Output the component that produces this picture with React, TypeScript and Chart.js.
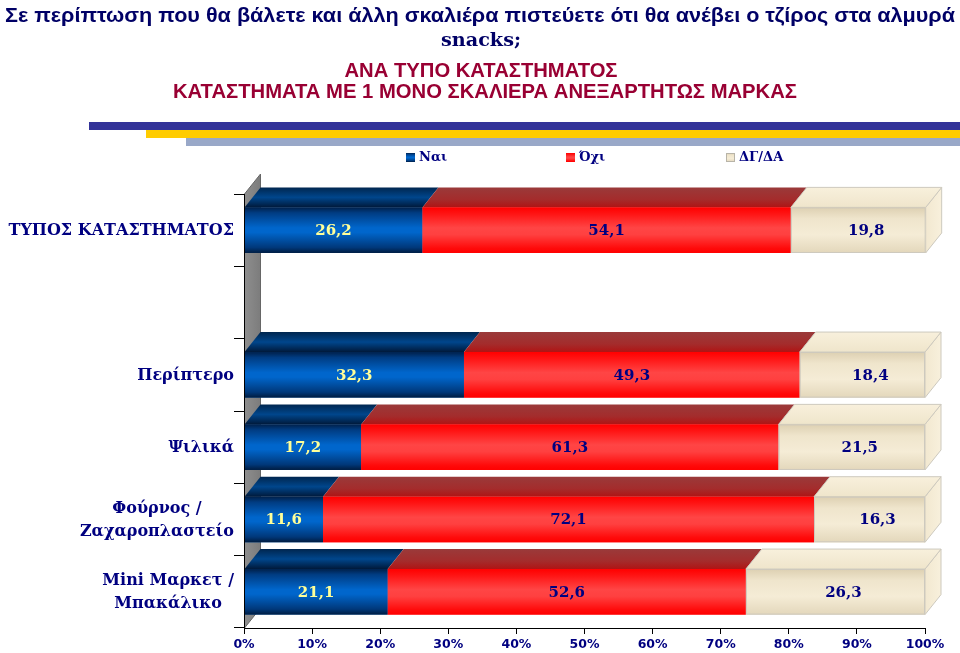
import React, { useEffect, useRef } from "react";
import { Chart, registerables } from "chart.js";

Chart.register(...registerables);

// ---------- data ----------
const categories: string[][] = [
  ["ΤΥΠΟΣ ΚΑΤΑΣΤΗΜΑΤΟΣ"],
  [""],
  ["Περίπτερο"],
  ["Ψιλικά"],
  ["Φούρνος /", "Ζαχαροπλαστείο"],
  ["Mini Μαρκετ /", "Μπακάλικο"],
];
const seriesNames = ["Ναι", "Όχι", "ΔΓ/ΔΑ"];
const yesValues: (number | null)[] = [26.2, null, 32.3, 17.2, 11.6, 21.1];
const noValues: (number | null)[] = [54.1, null, 49.3, 61.3, 72.1, 52.6];
const dkValues: (number | null)[] = [19.8, null, 18.4, 21.5, 16.3, 26.3];
const xTickSuffix = "%";

const titleLine1 =
  "Σε περίπτωση που θα βάλετε και άλλη σκαλιέρα πιστεύετε ότι θα ανέβει ο τζίρος στα αλμυρά";
const titleLine2 = "snacks;";
const subtitleLine1 = "ΑΝΑ ΤΥΠΟ ΚΑΤΑΣΤΗΜΑΤΟΣ";
const subtitleLine2 = "ΚΑΤΑΣΤΗΜΑΤΑ ΜΕ 1 ΜΟΝΟ ΣΚΑΛΙΕΡΑ ΑΝΕΞΑΡΤΗΤΩΣ ΜΑΡΚΑΣ";

// ---------- styles ----------
const DX = 16;
const DY = -20;
const NAVY = "#000080";
const SERIF = '"DejaVu Serif", "Liberation Serif", serif';
const SANS = '"Liberation Sans", Arial, sans-serif';

function fitText(
  ctx: CanvasRenderingContext2D,
  text: string,
  cx: number,
  y: number,
  width: number,
  font: string,
  color: string
) {
  ctx.save();
  ctx.font = font;
  const w = ctx.measureText(text).width;
  const s = width / w;
  ctx.translate(cx, y);
  ctx.scale(s, 1);
  ctx.textAlign = "center";
  ctx.textBaseline = "alphabetic";
  ctx.fillStyle = color;
  ctx.fillText(text, 0, 0);
  ctx.restore();
}

function vGrad(ctx: CanvasRenderingContext2D, y0: number, y1: number, stops: [number, string][]) {
  const g = ctx.createLinearGradient(0, y0, 0, y1);
  stops.forEach(([o, c]) => g.addColorStop(o, c));
  return g;
}

const frontStops: [number, string][][] = [
  [
    [0, "#00204a"],
    [0.12, "#003c82"],
    [0.45, "#0066cc"],
    [0.55, "#0066cc"],
    [0.88, "#00387a"],
    [1, "#001c40"],
  ],
  [
    [0, "#ff0000"],
    [0.15, "#ff1515"],
    [0.45, "#ff4545"],
    [0.6, "#ff4040"],
    [0.9, "#ff0a0a"],
    [1, "#ff0000"],
  ],
  [
    [0, "#ddd0b2"],
    [0.25, "#efe5cc"],
    [0.6, "#f5ecd6"],
    [1, "#e3d7bb"],
  ],
];
const topStops: [number, string][][] = [
  [
    [0, "#00264f"],
    [0.5, "#00468c"],
    [1, "#00193a"],
  ],
  [
    [0, "#9a3a3a"],
    [0.6, "#a42c2c"],
    [1, "#b01414"],
  ],
  [
    [0, "#f8f0dc"],
    [1, "#efe5cb"],
  ],
];
const baseColors = ["#0060c0", "#ff2020", "#f2e9d2"];
const labelColors = ["#ffff99", NAVY, NAVY];

const decorPlugin = {
  id: "decor",
  beforeDraw(chart: any) {
    const ctx: CanvasRenderingContext2D = chart.ctx;
    ctx.save();
    ctx.fillStyle = "#ffffff";
    ctx.fillRect(0, 0, chart.width, chart.height);

    fitText(ctx, titleLine1, 480, 22, 950, `bold 21px ${SANS}`, "#000066");
    fitText(ctx, titleLine2, 481, 46, 80, `bold 18px ${SERIF}`, "#000066");
    fitText(ctx, subtitleLine1, 481, 77, 273, `bold 20px ${SANS}`, "#990033");
    fitText(ctx, subtitleLine2, 485, 98, 624, `bold 20px ${SANS}`, "#990033");

    ctx.fillStyle = "#333399";
    ctx.fillRect(89, 122, 960 - 89, 8);
    ctx.fillStyle = "#ffcc00";
    ctx.fillRect(146, 130, 960 - 146, 8);
    ctx.fillStyle = "#99a8c8";
    ctx.fillRect(186, 138, 960 - 186, 8);

    // legend
    const lx = [406, 566, 726];
    const ly = 153;
    ctx.font = `bold 13px ${SERIF}`;
    ctx.textBaseline = "middle";
    ctx.textAlign = "left";
    seriesNames.forEach((name, i) => {
      ctx.fillStyle = vGrad(ctx, ly, ly + 9, frontStops[i]);
      ctx.fillRect(lx[i], ly, 9, 9);
      if (i === 2) {
        ctx.strokeStyle = "#b8b4a8";
        ctx.lineWidth = 1;
        ctx.strokeRect(lx[i] + 0.5, ly + 0.5, 8, 8);
      }
      ctx.fillStyle = NAVY;
      ctx.fillText(name, lx[i] + 13, ly + 5);
    });
    ctx.restore();
  },
  beforeDatasetsDraw(chart: any) {
    const ctx: CanvasRenderingContext2D = chart.ctx;
    const a = chart.chartArea;
    const L = a.left + 0.5;
    ctx.save();
    ctx.beginPath();
    ctx.moveTo(L, a.bottom);
    ctx.lineTo(L, a.top);
    ctx.lineTo(L + DX, a.top + DY);
    ctx.lineTo(L + DX, a.bottom + DY);
    ctx.closePath();
    const g = ctx.createLinearGradient(L, 0, L + DX, 0);
    g.addColorStop(0, "#8e8e8e");
    g.addColorStop(1, "#7c7c7c");
    ctx.fillStyle = g;
    ctx.fill();
    ctx.strokeStyle = "#666666";
    ctx.lineWidth = 1;
    ctx.stroke();
    ctx.restore();
  },
  afterDatasetsDraw(chart: any) {
    const ctx: CanvasRenderingContext2D = chart.ctx;
    ctx.save();
    const nds = chart.data.datasets.length;
    const labels: { text: string; x: number; y: number; color: string }[] = [];
    for (let d = 0; d < nds; d++) {
      const meta = chart.getDatasetMeta(d);
      meta.data.forEach((el: any, j: number) => {
        const v = chart.data.datasets[d].data[j];
        if (v === null || v === undefined) return;
        const p = el.getProps(["x", "y", "base", "height"], true);
        const left = Math.min(p.base, p.x);
        const right = Math.max(p.base, p.x);
        const top = p.y - p.height / 2;
        const bottom = p.y + p.height / 2;
        const last = d === nds - 1;
        if (last) {
          ctx.beginPath();
          ctx.moveTo(right, top);
          ctx.lineTo(right + DX, top + DY);
          ctx.lineTo(right + DX, bottom + DY);
          ctx.lineTo(right, bottom);
          ctx.closePath();
          const sg = ctx.createLinearGradient(right, 0, right + DX, 0);
          sg.addColorStop(0, "#f2e8d0");
          sg.addColorStop(1, "#f8f0dc");
          ctx.fillStyle = sg;
          ctx.fill();
          ctx.strokeStyle = "#cdc9be";
          ctx.lineWidth = 1;
          ctx.stroke();
        }
        ctx.beginPath();
        ctx.moveTo(left, top);
        ctx.lineTo(right, top);
        ctx.lineTo(right + DX, top + DY);
        ctx.lineTo(left + DX, top + DY);
        ctx.closePath();
        ctx.fillStyle = vGrad(ctx, top + DY, top, topStops[d]);
        ctx.fill();
        if (last) {
          ctx.strokeStyle = "#cdc9be";
          ctx.lineWidth = 1;
          ctx.stroke();
        }
        ctx.fillStyle = vGrad(ctx, top, bottom, frontStops[d]);
        ctx.fillRect(left, top, right - left, bottom - top);
        if (last) {
          ctx.strokeStyle = "#cdc9be";
          ctx.lineWidth = 1;
          ctx.strokeRect(left + 0.5, top + 0.5, right - left - 1, bottom - top - 1);
        }
        const cx = last ? (left + right + DX) / 2 : (left + right) / 2;
        labels.push({
          text: Number(v).toFixed(1).replace(".", ","),
          x: cx,
          y: p.y + 1,
          color: labelColors[d],
        });
      });
    }
    ctx.font = `bold 15px ${SERIF}`;
    ctx.textAlign = "center";
    ctx.textBaseline = "middle";
    labels.forEach((l) => {
      ctx.fillStyle = l.color;
      ctx.fillText(l.text, l.x, l.y);
    });

    const ys = chart.scales.y;
    ctx.font = `bold 16px ${SERIF}`;
    ctx.fillStyle = NAVY;
    ctx.textBaseline = "middle";
    const lineH = 23;
    const rightEdge = ys.right - 10;
    (chart.data.labels as string[][]).forEach((lines, i) => {
      const cy = ys.getPixelForTick(i);
      const widths = lines.map((t) => ctx.measureText(t).width);
      const widest = Math.max(...widths);
      const center = rightEdge - widest / 2;
      lines.forEach((t, k) => {
        ctx.textAlign = "center";
        ctx.fillText(t, center, cy + (k - (lines.length - 1) / 2) * lineH + 1);
      });
    });
    ctx.restore();
  },
};

export default function App() {
  const ref = useRef<HTMLCanvasElement | null>(null);
  useEffect(() => {
    if (!ref.current) return;
    const valueSets = [yesValues, noValues, dkValues];
    const chart = new Chart(ref.current, {
      type: "bar",
      data: {
        labels: categories,
        datasets: seriesNames.map((name, i) => ({
          label: name,
          data: valueSets[i],
          backgroundColor: baseColors[i],
          borderWidth: 0,
          categoryPercentage: 0.63,
          barPercentage: 1,
        })),
      },
      options: {
        indexAxis: "y",
        responsive: false,
        animation: false,
        maintainAspectRatio: false,
        layout: { padding: { left: 0, right: 35, top: 194, bottom: 0 } },
        plugins: {
          legend: { display: false },
          title: { display: false },
          tooltip: { enabled: false },
        },
        scales: {
          x: {
            type: "linear",
            stacked: true,
            min: 0,
            max: 100,
            ticks: {
              stepSize: 10,
              callback: (v: any) => `${v}${xTickSuffix}`,
              color: NAVY,
              font: { family: "Verdana, 'DejaVu Sans', sans-serif", size: 12.5, weight: "bold" },
              padding: 3,
              maxRotation: 0,
              autoSkip: false,
            },
            grid: { drawOnChartArea: false, drawTicks: true, tickLength: 6, color: "#000000" },
            border: { color: "#000000", width: 1, z: 1 },
            afterFit: (s: any) => {
              s.height = 25;
            },
          },
          y: {
            type: "category",
            stacked: true,
            ticks: { display: false },
            grid: { drawOnChartArea: false, drawTicks: true, tickLength: 10, color: "#000000", offset: true },
            border: { color: "#000000", width: 1, z: 1 },
            afterFit: (s: any) => {
              s.width = 244;
            },
          },
        },
      } as any,
      plugins: [decorPlugin],
    });
    return () => chart.destroy();
  }, []);
  return (
    <div style={{ position: "absolute", left: 0, top: 0, width: 960, height: 653 }}>
      <canvas ref={ref} width={960} height={653} style={{ width: 960, height: 653, display: "block" }} />
    </div>
  );
}
